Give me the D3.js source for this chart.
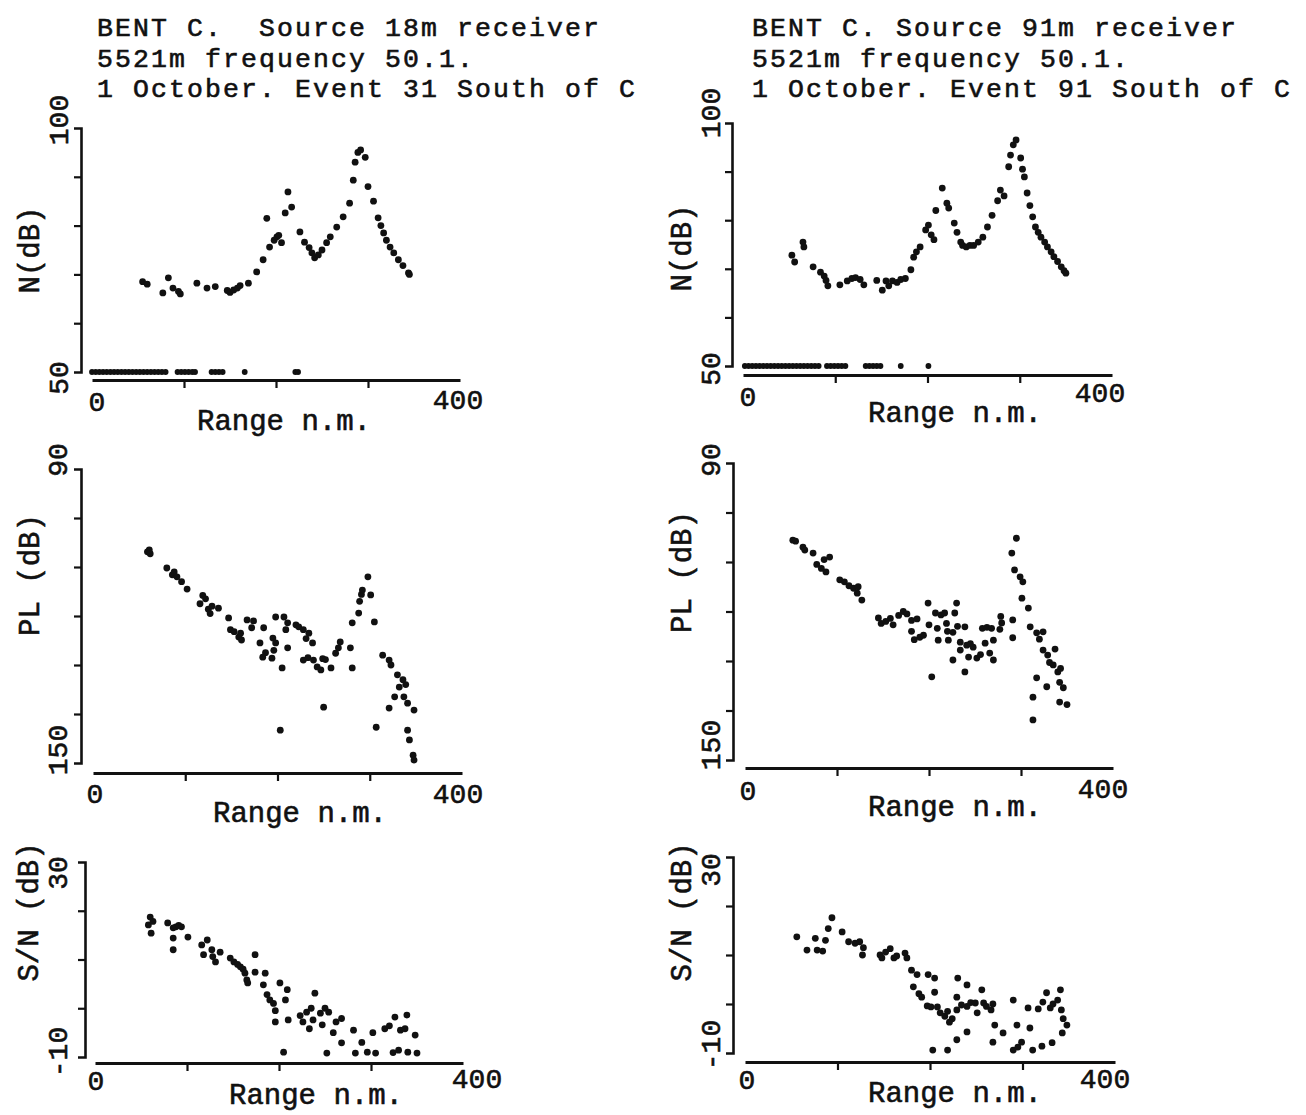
<!DOCTYPE html>
<html>
<head>
<meta charset="utf-8">
<script src="https://cdn.jsdelivr.net/npm/d3@7"></script>
<style>
  html, body { margin: 0; padding: 0; background: #fff; }
  svg { display: block; }
  text { font-family: "Liberation Mono", "Courier New", "DejaVu Sans Mono", monospace; fill: #111; stroke: #111; stroke-width: 0.6px; white-space: pre; }
</style>
</head>
<body>
<svg id="chart" width="1306" height="1115"></svg>
<script>
// ---- Data: range (n.m.) and level (dB) pairs for each panel ----

// Noise level, source 18 m receiver
const noise18 = [[55,68.5],[60,68],[77,66.2],[83,69.3],[88,67.2],[94,66.5],[96,66],[114,68.2],[125,67.2],[134,67.5],[147,66.7],[150,66.3],[154,66.8],[158,67.2],[161,67.7],[170,68.2],[179,70.5],[186,73],[193,75.6],[190,81.5],[198,77],[201,77.7],[203,78],[206,76.5],[210,82.6],[213,86.9],[217,83.8],[226,78.7],[231,76.6],[236,75.5],[239,74.4],[242,73.4],[246,74],[250,75],[255,76.5],[259,77.7],[266,79.7],[273,81.8],[280,84.6],[284,89.3],[286,93],[289,95],[292,95.5],[297,94],[300,88],[306,85],[311,81.6],[314,80],[317,78.5],[320,77],[324,75.6],[328,74.4],[333,73],[338,71.8],[344,70.3],[345,70]];
// Ranges where the noise reading sits on the 50 dB floor
const noise18Floor = [0,4,8,12,16,20,24,28,32,36,40,44,48,52,56,60,64,68,72,76,80,93,97,101,105,109,112,130,134,138,142,166,221,224];

// Noise level, source 91 m receiver
const noise91 = [[53,72.8],[56,71.4],[65,75.5],[66,74.5],[76,70.4],[84,69.3],[88,68.5],[90,67.6],[92,66.5],[105,66.7],[113,67.5],[118,68],[122,68.2],[127,67.8],[131,66.7],[145,67.6],[151,65.6],[155,67.5],[158,66.5],[162,67.5],[167,67.2],[171,67.8],[176,68],[182,69.8],[185,72.4],[188,73.5],[192,74.5],[198,78],[201,79],[204,77],[207,76],[209,82],[216,86.6],[221,83.5],[223,82.5],[229,79.4],[232,77.5],[236,75.5],[238,74.8],[242,74.5],[246,74.8],[250,74.8],[255,75.5],[260,76.5],[265,78.6],[270,81],[276,84],[279,86.2],[283,85],[288,91],[290,93.4],[293,95.5],[296,96.5],[301,92.8],[303,90.5],[305,88.9],[308,85.6],[311,83],[314,80.7],[317,78.6],[320,77.5],[323,76.5],[327,75.5],[330,74.5],[334,73.5],[337,72.5],[341,71.5],[345,70.4],[348,69.6],[350,69.1]];
const noise91Floor = [2,6,10,14,18,22,26,30,34,38,42,46,50,54,58,62,66,70,74,78,82,91,95,99,103,107,111,133,137,141,145,149,171,201];

// Propagation loss, source 18 m receiver
const loss18 = [[59,106.9],[61,106.5],[62,107.3],[80,110.2],[86,111.6],[88,111],[91,112],[96,113],[102,114.5],[116,117.5],[119,115.8],[122,116.5],[125,118.6],[127,119.5],[129,118],[136,118.4],[147,120.4],[149,122.8],[153,123.2],[158,124.3],[161,124.9],[160,123.5],[167,120.8],[172,122.4],[174,121],[181,125.5],[185,122.4],[187,127.5],[184,128.4],[195,124.5],[196,127],[198,125.5],[194,128.6],[205,130.6],[198,120.2],[207,120.2],[209,122.8],[211,121.4],[211,126.5],[203,143.3],[220,121.8],[223,122.2],[228,122.8],[231,124.6],[234,123.5],[238,125.5],[228,129],[233,128.5],[239,129],[243,130.4],[247,131],[249,128.7],[252,128.9],[258,130.6],[250,138.6],[263,127.6],[266,126.5],[268,125.3],[279,126.5],[281,130.6],[281,121.4],[288,119.4],[289,117],[291,115.6],[292,114.7],[298,112],[301,115.7],[305,121.2],[307,142.7],[314,128],[321,129],[323,130],[330,132],[332,134.5],[336,133],[339,134],[327,136.5],[321,138.8],[337,136.5],[341,137.8],[348,139.2],[341,143.3],[343,145.3],[347,148.4],[348,149.4]];

// Propagation loss, source 91 m receiver
const loss91 = [[52,105.6],[55,105.8],[63,107],[65,107.6],[74,108.2],[78,110.5],[83,111.3],[86,109.5],[88,112],[92,109],[103,113.6],[108,114],[113,114.8],[118,115.3],[123,115],[122,116.3],[127,117.7],[145,121.3],[148,122.4],[153,122],[158,121.4],[161,122.7],[167,120.8],[172,120],[176,120.5],[181,121.8],[187,121.5],[181,124],[184,125.7],[190,125.2],[194,124.8],[199,118.3],[200,122.7],[209,123.4],[210,125.8],[203,133.2],[207,120.3],[213,120.7],[217,120.3],[219,122.4],[220,124],[221,125.8],[228,120.3],[230,118.3],[226,124.2],[231,123],[234,126.2],[226,129.8],[234,127.8],[239,123.1],[241,126.8],[245,126.5],[243,129.2],[239,132.2],[248,127.2],[252,129.4],[256,128.7],[258,123.4],[263,123.2],[261,126.4],[266,128.4],[270,129.8],[268,123.4],[270,125.8],[278,121],[279,122.3],[277,123.6],[290,108.2],[295,105.2],[293,111.6],[291,121.7],[291,125.3],[299,113],[302,114],[301,117.3],[308,119.3],[310,123.1],[317,124.3],[320,125.6],[324,124.1],[324,127.8],[329,128.8],[331,130.3],[335,130.8],[337,127.6],[340,132.2],[343,131.5],[342,134.3],[346,135.4],[317,133.4],[328,135.2],[313,137.3],[313,141.9],[342,138.3],[350,138.8]];

// Signal-to-noise, source 18 m receiver
const snr18 = [[58,17.1],[60,18.7],[61,15.4],[63,17.8],[79,17.5],[85,16.5],[88,16.7],[91,17],[94,16.7],[85,12],[85,14.4],[101,14.6],[116,13],[122,14],[118,11],[127,12],[128,10.6],[131,9.5],[136,11.5],[147,10.3],[151,9.5],[155,9],[158,8.5],[161,8],[163,7.2],[165,5.8],[166,5.2],[174,11],[174,7.4],[185,7.2],[183,4.8],[187,2.8],[190,1.7],[194,1],[196,-0.5],[196,-2.8],[201,5.2],[209,3.8],[207,1.7],[210,-2.4],[205,-9],[223,-1.5],[226,-2.8],[230,-0.8],[235,0],[237,-2.4],[233,-4.2],[239,3.1],[245,-1],[250,0],[254,-0.8],[247,-3.4],[259,-5],[262,-2.8],[268,-2.1],[268,-7.1],[252,-9.2],[281,-4.5],[283,-9.2],[290,-7],[296,-9],[302,-5],[305,-9.2],[315,-4.2],[320,-3.6],[326,-1.8],[332,-4.5],[337,-4.2],[339,-1.4],[348,-5.5],[324,-9.1],[330,-8.6],[340,-9],[350,-9.2]];

// Signal-to-noise, source 91 m receiver
const snr91 = [[56,13.7],[67,11],[76,13.4],[78,11],[84,10.8],[87,13],[90,15.4],[94,17.6],[105,14.7],[112,12.7],[119,12.4],[124,12.7],[128,11.5],[127,10],[146,10],[148,9.4],[152,10.6],[157,11.3],[161,9.4],[164,9.8],[173,10.4],[175,9.4],[180,6.9],[186,6],[182,3.5],[188,2.1],[191,1.4],[197,-0.4],[201,-0.6],[208,-0.6],[198,6],[205,5.3],[205,2.4],[203,-9.4],[211,-1.8],[216,-2.5],[219,-1.5],[224,-3],[229,-1.2],[221,-3.7],[219,-9.4],[229,-7.3],[229,1.4],[230,5.3],[234,-0.2],[240,-0.5],[244,0.3],[249,0.2],[251,-1.8],[240,3.9],[240,-5.7],[256,2.9],[258,0.2],[261,-0.5],[266,-1.2],[268,0],[270,-4.3],[268,-7.8],[279,-5.9],[290,0.8],[290,-9.4],[295,-8.8],[294,-4.3],[299,-7.8],[306,-0.8],[308,-4.9],[311,-9.4],[321,-8.6],[332,-7.9],[343,-5.9],[317,-1],[322,0.4],[326,2.3],[330,-0.8],[333,0],[338,0.8],[342,-1.2],[344,-3],[348,-4.3],[341,2.9]];

// Axis ticks and labels
const rangeTicks = [100, 200, 300];
const rangeEnds = ["0", "400"];
const noiseTicks = [60, 70, 80, 90];
const lossTicks = [100, 110, 120, 130, 140];
const snrTicks = [0, 10, 20];
const noiseEnds = ["100", "50"];
const lossEnds = ["90", "150"];
const snrEnds = ["30", "-10"];
const yTitles = ["N(dB)", "PL (dB)", "S/N (dB)"];
const xTitle = "Range n.m.";
const headLeft = ["BENT C.  Source 18m receiver", "5521m frequency 50.1.", "1 October. Event 31 South of C"];
const headRight = ["BENT C. Source 91m receiver", "5521m frequency 50.1.", "1 October. Event 91 South of C"];

// ---- Layout ----
const svg = d3.select("#chart");

// typed heading blocks above each column
[[headLeft, 97], [headRight, 752]].forEach(([lines, x0]) => {
  svg.append("g").selectAll("text").data(lines).join("text")
    .attr("x", x0).attr("y", (d, i) => 36 + i * 30.5)
    .attr("font-size", 26.5).attr("letter-spacing", 2.1)
    .text(d => d);
});

// Each panel: plotted series, value domain, and frame geometry
const panels = [
  { pts: noise18, floor: noise18Floor, dom: [50, 100], ticks: noiseTicks, ends: noiseEnds, title: yTitles[0],
    ax: 81, yr: [372, 128], xy: 380, xr: [92, 460],
    topLab: [60, 120], botLab: [60, 378], yLab: [31, 250], x0: [97, 411], x400: [458, 409], xLab: [284, 430] },
  { pts: noise91, floor: noise91Floor, dom: [50, 100], ticks: noiseTicks, ends: noiseEnds, title: yTitles[0],
    ax: 732, yr: [366, 123], xy: 375, xr: [743, 1112],
    topLab: [712, 113], botLab: [712, 369], yLab: [683, 248], x0: [748, 406], x400: [1100, 402], xLab: [955, 422] },
  { pts: loss18, dom: [90, 150], ticks: lossTicks, ends: lossEnds, title: yTitles[1],
    ax: 81, yr: [469, 763], xy: 773, xr: [93, 462],
    topLab: [59, 460], botLab: [59, 750], yLab: [31, 575], x0: [95, 803], x400: [458, 803], xLab: [300, 822] },
  { pts: loss91, dom: [90, 150], ticks: lossTicks, ends: lossEnds, title: yTitles[1],
    ax: 733, yr: [463, 760], xy: 768, xr: [745, 1113],
    topLab: [712, 460], botLab: [712, 745], yLab: [683, 572], x0: [748, 800], x400: [1103, 798], xLab: [955, 816] },
  { pts: snr18, dom: [-10, 30], ticks: snrTicks, ends: snrEnds, title: yTitles[2],
    ax: 85, yr: [1057, 862], xy: 1063, xr: [95, 463],
    topLab: [59, 873], botLab: [59, 1052], yLab: [30, 912], x0: [96, 1090], x400: [477, 1088], xLab: [316, 1104] },
  { pts: snr91, dom: [-10, 30], ticks: snrTicks, ends: snrEnds, title: yTitles[2],
    ax: 733, yr: [1053, 857], xy: 1062, xr: [745, 1115],
    topLab: [712, 870], botLab: [712, 1045], yLab: [683, 912], x0: [747, 1089], x400: [1105, 1088], xLab: [955, 1102] }
];

const ink = "#111";

panels.forEach(p => {
  const x = d3.scaleLinear().domain([0, 400]).range(p.xr);
  const y = d3.scaleLinear().domain(p.dom).range(p.yr);
  const g = svg.append("g");

  // vertical axis with short left ticks
  const ya = g.append("g").attr("transform", `translate(${p.ax},0)`)
    .call(d3.axisLeft(y).tickValues(p.ticks).tickSize(7).tickSizeOuter(7).tickFormat(""));
  ya.select(".domain").attr("stroke", ink).attr("stroke-width", 2.6);
  ya.selectAll(".tick line").attr("stroke", ink).attr("stroke-width", 2.2);

  // range axis, drawn a little below the plot floor
  const xa = g.append("g").attr("transform", `translate(0,${p.xy})`)
    .call(d3.axisBottom(x).tickValues(rangeTicks).tickSize(8).tickSizeOuter(0).tickFormat(""));
  xa.select(".domain").attr("stroke", ink).attr("stroke-width", 2.8);
  xa.selectAll(".tick line").attr("stroke", ink).attr("stroke-width", 2.2);

  // end labels on the value axis (rotated)
  [[p.ends[0], p.topLab], [p.ends[1], p.botLab]].forEach(([t, pos]) => {
    g.append("text").attr("transform", `translate(${pos[0]},${pos[1]}) rotate(-90)`)
      .attr("text-anchor", "middle").attr("dominant-baseline", "central")
      .attr("font-size", 28).text(t);
  });
  g.append("text").attr("transform", `translate(${p.yLab[0]},${p.yLab[1]}) rotate(-90)`)
    .attr("text-anchor", "middle").attr("dominant-baseline", "central")
    .attr("font-size", 29).text(p.title);

  // range axis labels
  g.append("text").attr("x", p.x0[0]).attr("y", p.x0[1]).attr("text-anchor", "middle")
    .attr("font-size", 28).text(rangeEnds[0]);
  g.append("text").attr("x", p.x400[0]).attr("y", p.x400[1]).attr("text-anchor", "middle")
    .attr("font-size", 28).text(rangeEnds[1]);
  g.append("text").attr("x", p.xLab[0]).attr("y", p.xLab[1]).attr("text-anchor", "middle")
    .attr("font-size", 29).text(xTitle);

  // observations
  g.append("g").selectAll("circle").data(p.pts).join("circle")
    .attr("cx", d => x(d[0])).attr("cy", d => y(d[1])).attr("r", 3.4).attr("fill", ink);

  if (p.floor) {
    g.append("g").selectAll("circle").data(p.floor).join("circle")
      .attr("cx", d => x(d)).attr("cy", y(p.dom[0])).attr("r", 2.9).attr("fill", ink);
  }
});
</script>
</body>
</html>
